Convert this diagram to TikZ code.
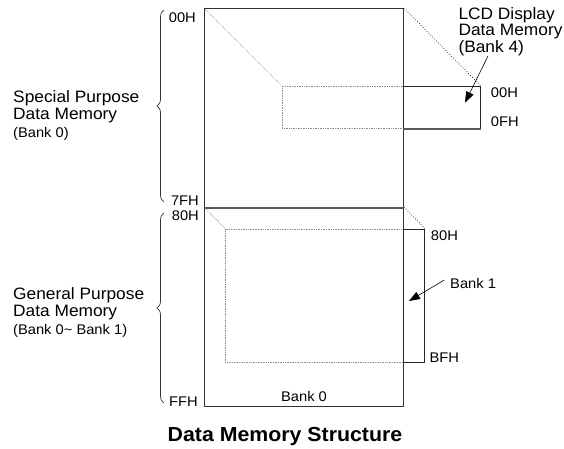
\documentclass[tikz,border=0pt]{standalone}
\usepackage{fontspec}
\setmainfont{Liberation Sans}[FakeStretch=1.05]
\usetikzlibrary{arrows.meta,decorations.pathreplacing}

\begin{document}
\begin{tikzpicture}[x=1pt, y=-1pt,
  memblock/.style={draw=black!80, line width=0.9pt, inner sep=0pt, anchor=north west,
    minimum width=199pt, minimum height=199pt},
  ghostbox/.style={draw=black!45, densely dotted, line width=0.7pt, inner sep=0pt, anchor=north west},
  bankbox/.style={draw=black!85, line width=0.9pt, inner sep=0pt, anchor=north west},
  sepline/.style={draw=black!65, line width=1.6pt},
  fadeline/.style={draw=black!45, densely dotted, line width=0.7pt},
  linkline/.style={draw=black, dotted, line width=0.7pt},
  addr/.style={font=\fontsize{14}{16}\selectfont, inner sep=0pt},
  grouplabel/.style={font=\fontsize{16.5}{17.5}\selectfont, align=left, inner sep=0pt, anchor=north west},
  pointer/.style={-{Triangle[length=11pt,width=8pt]}, line width=0.6pt},
  bracing/.style={decorate, decoration={brace, amplitude=7pt}, line width=0.7pt, black!80}]

\useasboundingbox (0,0) rectangle (564,448);

% shadows of the banks inside bank 0
\node[ghostbox, minimum width=121pt, minimum height=42pt] (lcdghost) at (282,86) {};
\node[ghostbox, minimum width=178pt, minimum height=133pt] (b1ghost) at (225,228.5) {};
\draw[fadeline] (204,8) -- (lcdghost.north west);
\draw[fadeline] (204,207) -- (b1ghost.north west);

% bank 0
\node[memblock] (spm) at (204,8) {};
\node[memblock] (gpm) at (204,207) {};
\draw[sepline] (spm.south west) -- (spm.south east);

% LCD bank and bank 1
\node[bankbox, minimum width=77pt, minimum height=42pt] (lcd) at (403,86) {};
\draw[sepline] (lcd.south west) -- (lcd.south east);
\node[bankbox, minimum width=21pt, minimum height=133pt] (bank1) at (403,228.5) {};
\draw[linkline] (spm.north east) -- (lcd.north east);
\draw[linkline] (gpm.north east) -- (bank1.north east);

% addresses
\node[addr, anchor=base east] (a00) at (196,22) {00H};
\node[addr, anchor=base east] (a7f) at (199,205) {7FH};
\node[addr, anchor=base east] (a80) at (199,220) {80H};
\node[addr, anchor=base east] (aff) at (198,406) {FFH};
\node[addr, anchor=base west] (l00) at (490.7,97.3) {00H};
\node[addr, anchor=base west] (l0f) at (490.7,126.7) {0FH};
\node[addr, anchor=base west] (b80) at (430.7,240) {80H};
\node[addr, anchor=base west] (bbf) at (429.3,362.3) {BFH};
\node[addr, anchor=base] (b0label) at (304,401) {Bank 0};
\node[addr, anchor=base west] (b1label) at (450,288.3) {Bank 1};

% braces and group names
\draw[bracing] (164,202) -- (164,10);
\draw[bracing] (164,403) -- (164,213);
\node[grouplabel] (spmlabel) at (13,90) {Special Purpose\\Data Memory\\{\fontsize{14}{16}\selectfont (Bank 0)}};
\node[grouplabel] (gpmlabel) at (13,287) {General Purpose\\Data Memory\\{\fontsize{14}{16}\selectfont (Bank 0\textasciitilde\ Bank 1)}};
\node[grouplabel, font=\fontsize{16.5}{16.3}\selectfont] (lcdlabel) at (458.3,7.5) {LCD Display\\Data Memory\\(Bank 4)};

% pointers
\coordinate (lcdtail) at (488,56);
\coordinate (lcdtip) at (465,102.7);
\coordinate (b1tail) at (444.3,280);
\coordinate (b1tip) at (409,301);
\draw[pointer] (lcdtail) -- (lcdtip);
\draw[pointer] (b1tail) -- (b1tip);

% title
\node[font=\fontsize{20.3}{22}\selectfont\bfseries, anchor=base, inner sep=0pt] (title) at (285,441) {Data Memory Structure};

\end{tikzpicture}
\end{document}
